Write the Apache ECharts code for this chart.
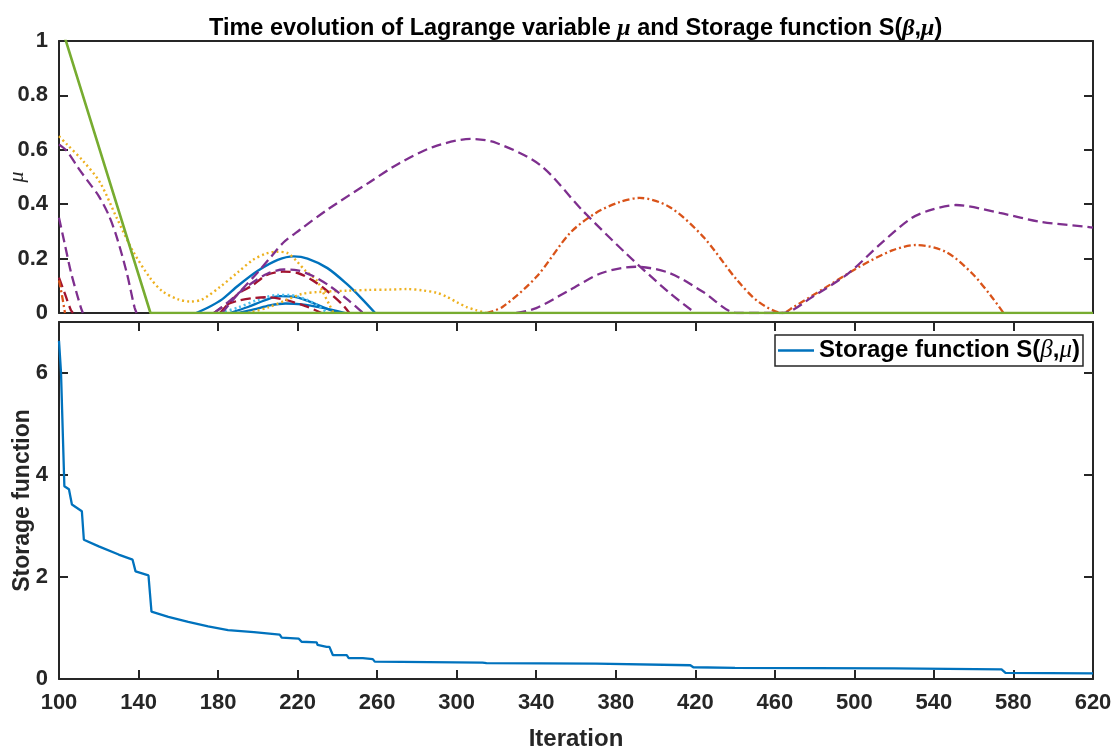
<!DOCTYPE html>
<html>
<head>
<meta charset="utf-8">
<script src="https://cdn.jsdelivr.net/npm/echarts@6/dist/echarts.min.js"></script>
<style>
  html, body { margin: 0; padding: 0; background: #ffffff; }
  #chart { width: 1115px; height: 749px; }
</style>
</head>
<body>
<div id="chart"></div>
<script>
// Iteration axis ticks
const iterTicks = [100, 140, 180, 220, 260, 300, 340, 380, 420, 460, 500, 540, 580, 620];

// Lagrange variable trajectories, [iteration, mu]
const muGreen = [[100, 1.082], [146, 0], [620, 0]];
const muOrangeStart = [[100, 0.12], [101.5, 0.065], [103, 0]];
const muDarkRedStart = [[100, 0.13], [103, 0.07], [106, 0.01], [107, 0]];
const muPurpleA = [[100, 0.62], [104, 0.595], [110, 0.53], [115, 0.48], [120, 0.43], [125, 0.36], [129, 0.28], [134, 0.15], [138, 0.02], [139, 0]];
const muPurpleB = [[100, 0.35], [103, 0.25], [106, 0.15], [109, 0.07], [111, 0.02], [112, 0]];
const muYellowA = [[100, 0.65], [104, 0.62], [112, 0.56], [120.6, 0.48], [129, 0.35], [137, 0.23], [145.7, 0.13], [152, 0.08], [160, 0.05], [166, 0.042], [172, 0.05], [181, 0.096], [190, 0.15], [197.5, 0.195], [204, 0.218], [209.5, 0.225], [215, 0.22], [219.6, 0.19], [224, 0.155], [229.6, 0.12], [232.7, 0.077], [236, 0.03], [238, 0]];
const muYellowB = [[195, 0], [205, 0.02], [215, 0.05], [222, 0.07], [230, 0.077], [245, 0.082], [256, 0.085], [266, 0.086], [275, 0.088], [283, 0.083], [290, 0.074], [295, 0.06], [300, 0.04], [305, 0.022], [310, 0.01], [315, 0]];
const muBlueA = [[169, 0], [175, 0.02], [182, 0.05], [190, 0.1], [200, 0.155], [210, 0.195], [218, 0.208], [225, 0.2], [235, 0.165], [245, 0.105], [252, 0.055], [259, 0]];
const muBlueB = [[186, 0], [195, 0.022], [203, 0.045], [211, 0.062], [218, 0.06], [226, 0.042], [234, 0.018], [240, 0]];
const muBlueC = [[190, 0], [198, 0.013], [206, 0.028], [214, 0.035], [222, 0.032], [232, 0.02], [244, 0]];
const muLightBlue = [[181, 0], [190, 0.02], [200, 0.048], [210, 0.066], [216, 0.066], [224, 0.05], [230, 0.028], [235, 0]];
const muDarkRedA = [[181, 0], [190, 0.07], [197, 0.1], [204.5, 0.14], [212.6, 0.152], [220, 0.147], [227.6, 0.12], [235, 0.08], [242.7, 0.03], [246, 0]];
const muDarkRedB = [[178, 0], [184, 0.03], [190, 0.045], [197.5, 0.055], [205, 0.058], [214, 0.048], [224, 0.025], [232, 0]];
const muPurpleC = [[178, 0], [185, 0.04], [195, 0.1], [205, 0.145], [213, 0.16], [220, 0.157], [228, 0.135], [236, 0.1], [245, 0.05], [253, 0]];
const muPurpleD = [[182, 0], [190, 0.07], [200, 0.15], [207, 0.21], [213, 0.26], [221, 0.305], [235, 0.38], [256, 0.48], [271, 0.55], [288, 0.61], [307, 0.64], [320, 0.625], [342, 0.544], [363, 0.379], [385, 0.22], [407, 0.074], [420, 0]];
const muPurpleE = [[330, 0], [340, 0.018], [357, 0.085], [373, 0.147], [390, 0.17], [407, 0.147], [424, 0.077], [441, 0], [464, 0], [479, 0.06], [497, 0.146], [514, 0.26], [529, 0.35], [539, 0.38], [551, 0.397], [573, 0.368], [594, 0.335], [618, 0.316], [620, 0.314]];
const muOrange = [[315, 0], [323, 0.022], [340, 0.132], [357, 0.294], [370, 0.368], [382, 0.408], [392, 0.423], [407, 0.39], [424, 0.28], [441, 0.121], [452, 0.04], [464, 0], [469, 0.02], [486, 0.096], [502.5, 0.17], [519, 0.23], [531, 0.25], [546, 0.225], [559, 0.147], [569, 0.06], [575, 0]];

// Storage function S(beta, mu), [iteration, value]
const storage = [[100, 6.63], [101, 6.02], [102, 6.0], [102.7, 3.78], [105, 3.72], [106.5, 3.42], [111.5, 3.29], [112.5, 2.73], [120, 2.6], [130, 2.44], [137, 2.34], [138.5, 2.11], [145, 2.03], [146.5, 1.32], [155, 1.22], [165, 1.12], [175, 1.03], [185, 0.96], [198, 0.92], [211, 0.87], [212, 0.81], [220.6, 0.79], [222, 0.73], [229.6, 0.72], [230, 0.67], [234.6, 0.63], [236, 0.63], [237.7, 0.47], [244.7, 0.47], [245.7, 0.41], [252.8, 0.41], [257.8, 0.39], [258.8, 0.34], [313, 0.32], [315, 0.31], [370, 0.3], [417.5, 0.27], [419, 0.23], [440, 0.22], [520, 0.21], [574, 0.19], [576, 0.12], [620, 0.11]];

const AXIS = '#262626';
const FONT = "'Liberation Sans', Arial, Helvetica, sans-serif";
const SERIF = "'Liberation Serif', 'DejaVu Serif', serif";

const labelStyle = { color: AXIS, fontFamily: FONT, fontWeight: 'bold', fontSize: 22 };

function frameAxis(extra) {
  return Object.assign({
    axisLine: { show: true, onZero: false, lineStyle: { color: AXIS, width: 2 } },
    axisTick: { show: true, inside: true, length: 9, lineStyle: { color: AXIS, width: 2 } },
    splitLine: { show: false },
    axisLabel: { show: false },
    nameMoveOverlap: false
  }, extra);
}

const xCommon = { type: 'value', min: iterTicks[0], max: iterTicks[iterTicks.length - 1], interval: 40 };

function lineSeries(data, color, dash, width, z, smooth) {
  return {
    type: 'line', xAxisIndex: 0, yAxisIndex: 0, data: data,
    smooth: smooth === undefined ? 0.3 : smooth,
    showSymbol: false, symbol: 'none', z: z || 2,
    lineStyle: { color: color, width: width || 2.3, type: dash || 'solid' },
    emphasis: { disabled: true }
  };
}

const DASH = [10, 5];
const DOT = [2, 3];
const DASHDOT = [7, 3, 2, 3];

const option = {
  animation: false,
  backgroundColor: '#ffffff',
  title: {
    text: '{b|Time evolution of Lagrange variable }{i|μ}{b| and Storage function S(}{i|β}{b|,}{i|μ}{b|)}',
    left: 209, top: 17, padding: 0,
    textStyle: {
      rich: {
        b: { fontFamily: FONT, fontWeight: 'bold', fontSize: 23.5, color: '#000' },
        i: { fontFamily: SERIF, fontStyle: 'italic', fontSize: 24, color: '#000' }
      }
    }
  },
  legend: {
    data: [{ name: 'Storage function S(β,μ)', icon: 'rect' }],
    left: 775, top: 335,
    backgroundColor: '#ffffff',
    borderColor: AXIS, borderWidth: 1.5,
    padding: [3, 3, 3, 3],
    itemWidth: 36, itemHeight: 2.5, itemGap: 4,
    formatter: () => '{b|Storage function S(}{i|β}{b|,}{i|μ}{b|)}',
    textStyle: {
      rich: {
        b: { fontFamily: FONT, fontWeight: 'bold', fontSize: 24, color: '#000' },
        i: { fontFamily: SERIF, fontStyle: 'italic', fontSize: 25, color: '#000' }
      }
    }
  },
  grid: [
    { left: 59, right: 22, top: 41, height: 272, outerBoundsMode: 'none', containLabel: false },
    { left: 59, right: 22, top: 322, height: 357, outerBoundsMode: 'none', containLabel: false }
  ],
  xAxis: [
    frameAxis(Object.assign({ gridIndex: 0, position: 'bottom', axisTick: { show: false } }, xCommon)),
    frameAxis(Object.assign({ gridIndex: 0, position: 'top', axisTick: { show: false } }, xCommon)),
    frameAxis(Object.assign({
      gridIndex: 1, position: 'bottom',
      name: 'Iteration', nameLocation: 'middle', nameGap: 48,
      nameTextStyle: { color: AXIS, fontFamily: FONT, fontWeight: 'bold', fontSize: 24 },
      axisLabel: Object.assign({ show: true, margin: 13 }, labelStyle)
    }, xCommon)),
    frameAxis(Object.assign({ gridIndex: 1, position: 'top' }, xCommon))
  ],
  yAxis: [
    frameAxis({
      type: 'value', gridIndex: 0, position: 'left', min: 0, max: 1, interval: 0.2,
      name: 'μ', nameLocation: 'middle', nameGap: 31,
      nameTextStyle: { color: AXIS, fontFamily: SERIF, fontStyle: 'italic', fontSize: 22 },
      axisLabel: Object.assign({ show: true, margin: 11 }, labelStyle)
    }),
    frameAxis({ type: 'value', gridIndex: 0, position: 'right', min: 0, max: 1, interval: 0.2 }),
    frameAxis({
      type: 'value', gridIndex: 1, position: 'left', min: 0, max: 7, interval: 2,
      name: 'Storage function', nameLocation: 'middle', nameGap: 25,
      nameTextStyle: { color: AXIS, fontFamily: FONT, fontWeight: 'bold', fontSize: 23 },
      axisLabel: Object.assign({
        show: true, margin: 11,
        formatter: v => (v % 2 === 0 ? String(v) : '')
      }, labelStyle)
    }),
    frameAxis({ type: 'value', gridIndex: 1, position: 'right', min: 0, max: 7, interval: 2 })
  ],
  series: [
    lineSeries(muBlueA, '#0072BD', 'solid', 2.4),
    lineSeries(muBlueB, '#0072BD', 'solid'),
    lineSeries(muBlueC, '#0072BD', 'solid'),
    lineSeries(muLightBlue, '#4DBEEE', DOT, 2.6),
    lineSeries(muDarkRedStart, '#A2142F', DASH),
    lineSeries(muDarkRedA, '#A2142F', DASH, 2.4),
    lineSeries(muDarkRedB, '#A2142F', DASH),
    lineSeries(muOrangeStart, '#D95319', DASHDOT),
    lineSeries(muOrange, '#D95319', DASHDOT),
    lineSeries(muYellowA, '#EDB120', DOT, 2.4),
    lineSeries(muYellowB, '#EDB120', DOT, 2.4),
    lineSeries(muPurpleA, '#7E2F8E', DASH),
    lineSeries(muPurpleB, '#7E2F8E', DASH),
    lineSeries(muPurpleC, '#7E2F8E', DASH),
    lineSeries(muPurpleD, '#7E2F8E', DASH),
    lineSeries(muPurpleE, '#7E2F8E', DASH),
    lineSeries(muGreen, '#77AC30', 'solid', 2.6, 5, false),
    {
      name: 'Storage function S(β,μ)',
      type: 'line', xAxisIndex: 2, yAxisIndex: 2, data: storage,
      showSymbol: false, symbol: 'none',
      lineStyle: { color: '#0072BD', width: 2.3 },
      itemStyle: { color: '#0072BD' },
      emphasis: { disabled: true }
    }
  ]
};

const chart = echarts.init(document.getElementById('chart'), null, { renderer: 'canvas' });
chart.setOption(option);
</script>
</body>
</html>
